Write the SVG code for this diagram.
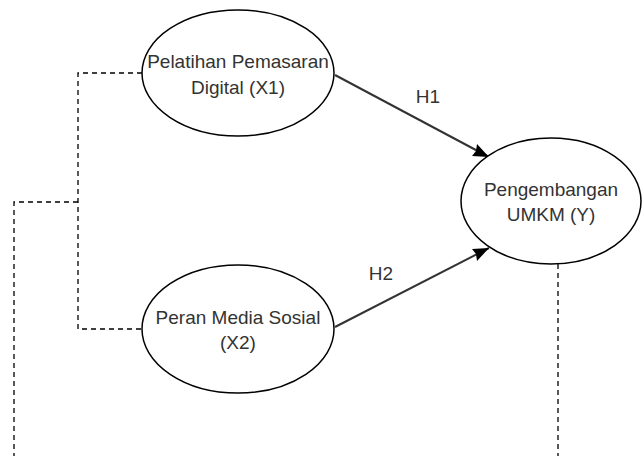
<svg xmlns="http://www.w3.org/2000/svg" width="642" height="456" viewBox="0 0 642 456">
<defs>
<style>
.node{fill:#fff;stroke:#000;stroke-width:1.5}
.t{font-family:"Liberation Sans",Arial,sans-serif;font-size:19px;fill:#333;text-anchor:middle}
.dash{fill:none;stroke:#000;stroke-width:1.3;stroke-dasharray:5 4}
.arr{fill:none;stroke:#333;stroke-width:2;marker-end:url(#ah)}
</style>
<marker id="ah" viewBox="0 0 10 10" refX="9" refY="5" markerWidth="6" markerHeight="6" markerUnits="userSpaceOnUse" orient="auto">
<path d="M0,0 L10,5 L0,10 L2.5,5 Z" fill="#000"/>
</marker>
</defs>
<rect width="642" height="456" fill="#fff"/>
<g id="connectors">
<polyline class="dash" points="142,73 78,73 78,329 142,329"/>
<polyline class="dash" points="78,202 14,202 14,456"/>
<line class="dash" x1="558" y1="264" x2="558" y2="456"/>
<line class="arr" x1="335" y1="75" x2="489" y2="157" style="marker-end:none"/>
<line class="arr" x1="335" y1="327" x2="489" y2="248" style="marker-end:none"/>
<path d="M489,157 L472,156 L476,151 L477,144 Z" fill="#000"/>
<path d="M489,248 L477,261 L476,254 L472,249 Z" fill="#000"/>
<text class="t" x="428" y="103">H1</text>
<text class="t" x="381" y="280">H2</text>
</g>
<g id="x1">
<ellipse class="node" cx="238" cy="73" rx="96" ry="63"/>
<text class="t" x="238" y="68">Pelatihan Pemasaran</text>
<text class="t" x="238" y="94">Digital (X1)</text>
</g>
<g id="x2">
<ellipse class="node" cx="238" cy="329" rx="96" ry="64"/>
<text class="t" x="238" y="324">Peran Media Sosial</text>
<text class="t" x="238" y="349">(X2)</text>
</g>
<g id="y">
<ellipse class="node" cx="551" cy="201" rx="90" ry="63"/>
<text class="t" x="551" y="196">Pengembangan</text>
<text class="t" x="551" y="221">UMKM (Y)</text>
</g>
</svg>
